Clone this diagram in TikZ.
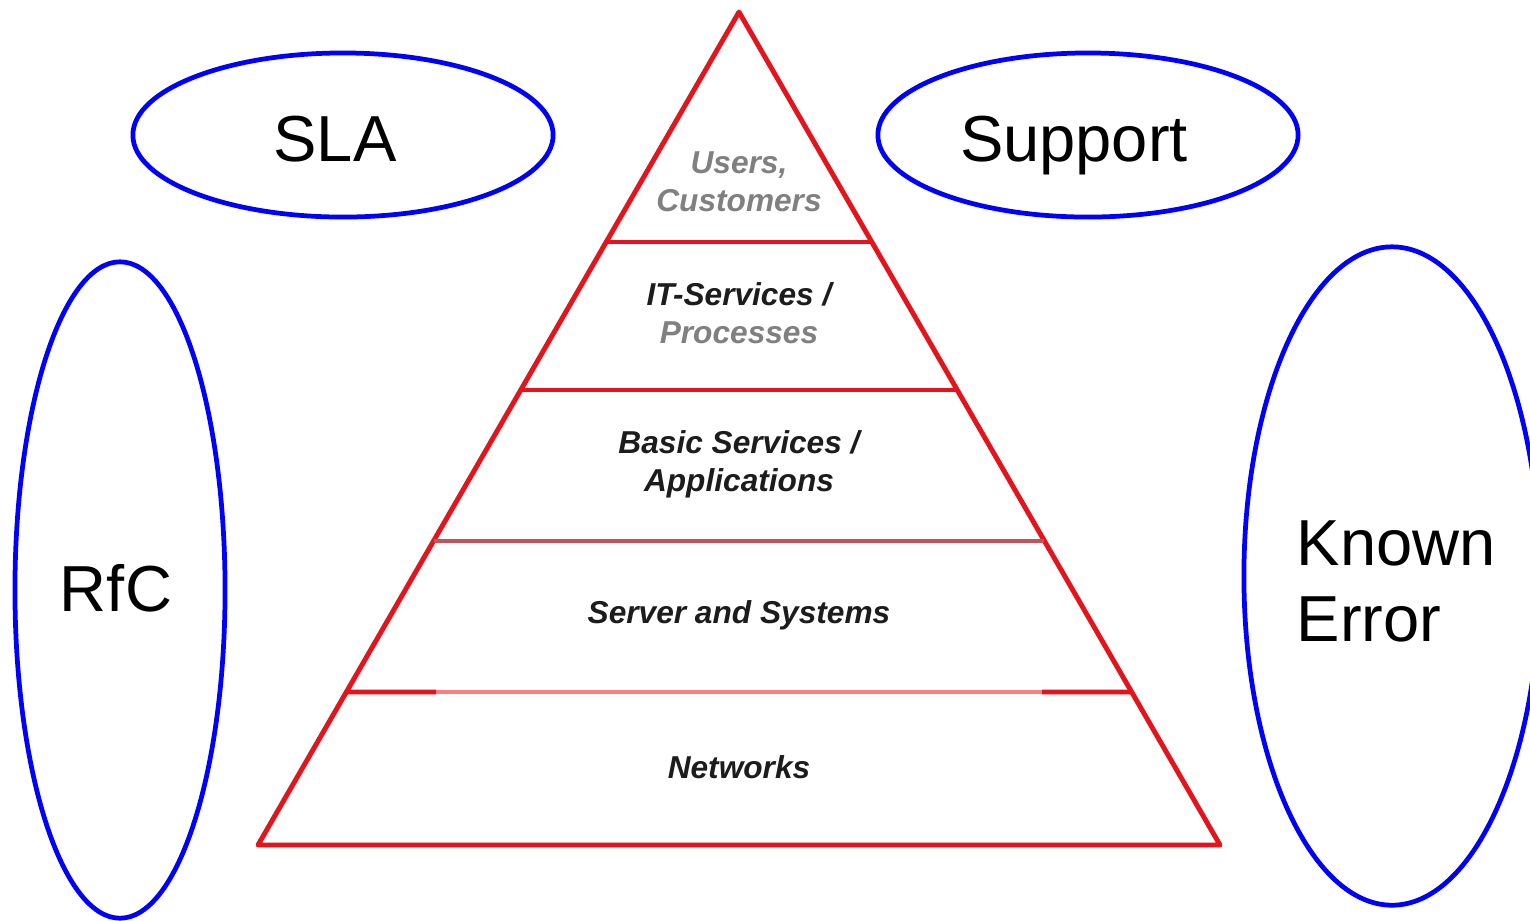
\documentclass[tikz,border=0pt]{standalone}
\usepackage{fontspec}
\setmainfont{Liberation Sans}
\usepackage{tikz}
\usetikzlibrary{calc,shapes.geometric}

\definecolor{pyred}{RGB}{228,20,28}
\definecolor{pyredmuted}{RGB}{192,84,92}
\definecolor{pyredpale}{RGB}{250,128,128}
\definecolor{tiergray}{RGB}{128,128,128}
\definecolor{tierdark}{RGB}{28,28,28}

\begin{document}
\begin{tikzpicture}[x=0.01cm,y=-0.01cm,
    edge/.style={draw=pyred,line width=1.4pt,line join=round},
    tier/.style={font=\fontsize{9}{10.8}\selectfont\bfseries\itshape,text=tierdark,align=center},
    topic/.style={ellipse,draw=blue,line width=1.35pt,inner sep=0pt},
    topiclabel/.style={inner sep=0pt,text depth=0pt,font=\fontsize{18.5}{21.5}\selectfont}]
        \useasboundingbox (0,0) rectangle (1530,920);
        % pyramid outline
        \coordinate (apex) at (739,12);
        \coordinate (bl) at (258,845);
        \coordinate (br) at (1220,845);
        \draw[edge] (apex) -- (bl) -- (br) -- cycle;
        % layer borders
        \draw[edge] ($(apex)!0.2761!(bl)$) -- ($(apex)!0.2761!(br)$);
        \draw[edge] ($(apex)!0.4538!(bl)$) -- ($(apex)!0.4538!(br)$);
        \draw[draw=pyredmuted,line width=1pt] ($(apex)!0.6351!(bl)$) -- ($(apex)!0.6351!(br)$);
        \draw[draw=pyredpale,line width=1pt] (436,692) -- (1042,692);
        \draw[edge] ($(apex)!0.8163!(bl)$) -- (436,692);
        \draw[edge] (1042,692) -- ($(apex)!0.8163!(br)$);
        % layer labels
        \node[tier,text=tiergray] (users) at (739,182) {Users,\\Customers};
        \node[tier] (itserv) at (739,313) {IT-Services /\\\textcolor{tiergray}{Processes}};
        \node[tier] (basic) at (739,464) {Basic Services /\\Applications};
        \node[tier] (server) at (739,615) {Server and Systems};
        \node[tier] (net) at (739,767) {Networks};
        % processes round the pyramid
        \node[topic,minimum width=4.2cm,minimum height=1.64cm] (sla) at (343,135) {};
        \node[topic,minimum width=4.2cm,minimum height=1.64cm] (support) at (1088,135) {};
        \node[topic,minimum width=2.1cm,minimum height=6.56cm] (rfc) at (120,590) {};
        \node[topic,minimum width=2.96cm,minimum height=6.58cm] (knownerr) at (1392,576) {};
        \node[topiclabel] (slatext) at (335,139) {SLA};
        \node[topiclabel] (supporttext) at (1074,139) {Support};
        \node[topiclabel] (rfctext) at (116,588) {RfC};
        \node[topiclabel,align=left,anchor=west] (knownerrtext) at (1296,581) {Known\\Error};
    \end{tikzpicture}
\end{document}
